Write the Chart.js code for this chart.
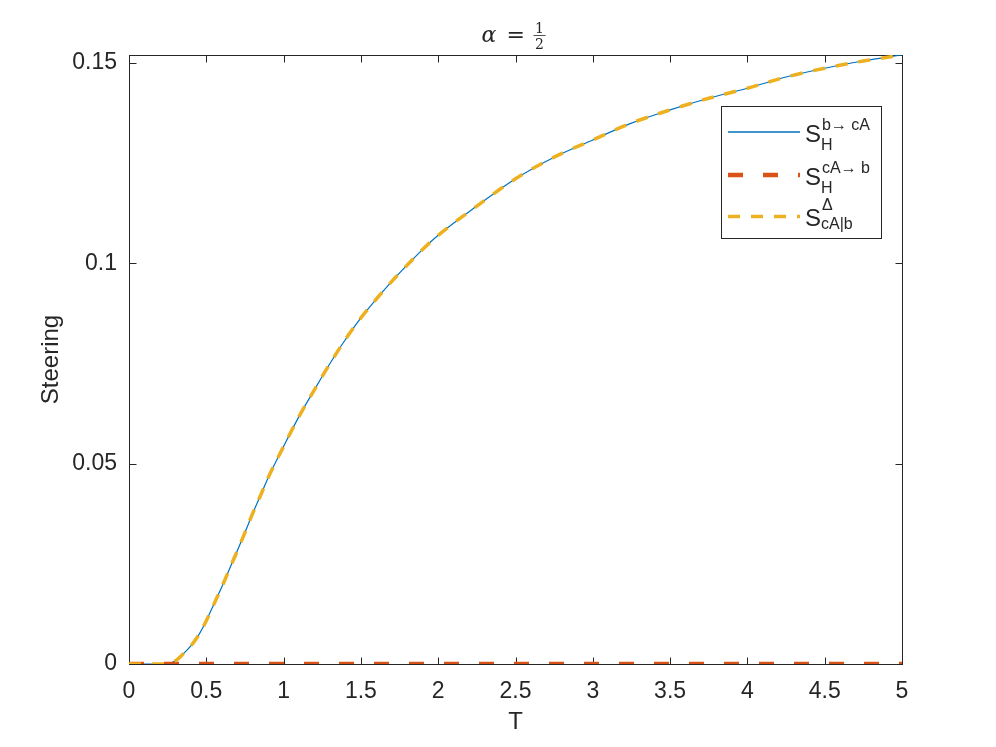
<!DOCTYPE html>
<html>
<head>
<meta charset="utf-8">
<script src="https://cdn.jsdelivr.net/npm/chart.js@4.4.0/dist/chart.umd.min.js"></script>
<style>
  html, body { margin: 0; padding: 0; background: #fff; }
  #wrap { width: 996px; height: 747px; }
</style>
</head>
<body>
<div id="wrap"><canvas id="steeringChart" width="996" height="747"></canvas></div>
<script>
// values
const tValues = [0, 0.1, 0.2, 0.25, 0.3, 0.35, 0.4, 0.45, 0.5, 0.55, 0.6, 0.65, 0.7, 0.75,
  0.8, 0.85, 0.9, 1.0, 1.1, 1.2, 1.3, 1.4, 1.5, 1.6, 1.7, 1.8, 1.9, 2.0, 2.25, 2.5,
  2.75, 3.0, 3.25, 3.5, 3.75, 4.0, 4.25, 4.5, 4.75, 5.0];
const sBtoCA = [0, 0, 0, 0.0001, 0.0008, 0.0025, 0.0045, 0.0072, 0.0108, 0.015, 0.0192,
  0.0237, 0.0282, 0.0328, 0.0376, 0.042, 0.0465, 0.0543, 0.0618, 0.0685, 0.0750, 0.0810,
  0.0864, 0.0911, 0.0955, 0.0996, 0.1035, 0.107, 0.1143, 0.1211, 0.1265, 0.1308, 0.135,
  0.1383, 0.1412, 0.1437, 0.1465, 0.1487, 0.1505, 0.152];
const sCAtoB = tValues.map(() => 0);
const sDelta = sBtoCA.slice();

const xTicks = [0, 0.5, 1, 1.5, 2, 2.5, 3, 3.5, 4, 4.5, 5];
const yTicks = [0, 0.05, 0.1, 0.15];

const AXIS_COLOR = "#262626";
const FONT = "'Liberation Sans', Arial, Helvetica, sans-serif";
const SERIF = "'DejaVu Serif', 'Liberation Serif', serif";

function toPoints(ys) {
  return tValues.map((t, i) => ({ x: t, y: ys[i] }));
}

// axes box with inward ticks (matlab style)
const boxPlugin = {
  id: "matlabBox",
  beforeDatasetsDraw(chart) {
    const { ctx, chartArea: a, scales } = chart;
    const L = Math.round(a.left) + 0.5, R = Math.round(a.right) + 0.5;
    const T = Math.round(a.top) + 0.5, B = Math.round(a.bottom) + 0.5;
    const len = 7;
    ctx.save();
    ctx.strokeStyle = AXIS_COLOR;
    ctx.lineWidth = 1;
    ctx.strokeRect(L, T, R - L, B - T);
    ctx.beginPath();
    xTicks.forEach((v) => {
      const px = Math.round(scales.x.getPixelForValue(v)) + 0.5;
      ctx.moveTo(px, B); ctx.lineTo(px, B - len);
      ctx.moveTo(px, T); ctx.lineTo(px, T + len);
    });
    yTicks.forEach((v) => {
      const py = Math.round(scales.y.getPixelForValue(v)) + 0.5;
      ctx.moveTo(L, py); ctx.lineTo(L + len, py);
      ctx.moveTo(R, py); ctx.lineTo(R - len, py);
    });
    ctx.stroke();
    ctx.restore();
  },
  afterDraw(chart) {
    const { ctx, chartArea: a } = chart;
    ctx.save();
    ctx.fillStyle = AXIS_COLOR;
    ctx.strokeStyle = AXIS_COLOR;
    ctx.textBaseline = "alphabetic";

    // title: alpha = 1/2
    const cx = (a.left + a.right) / 2;
    ctx.font = "italic 22px " + SERIF;
    ctx.textAlign = "left";
    ctx.fillText("α", cx - 34, 42);
    ctx.font = "22px " + SERIF;
    ctx.fillText("=", cx - 9, 42);
    ctx.font = "14px " + SERIF;
    ctx.textAlign = "center";
    ctx.fillText("1", cx + 24, 33);
    ctx.fillText("2", cx + 24, 48.5);
    ctx.lineWidth = 0.8;
    ctx.beginPath();
    ctx.moveTo(cx + 18, 35.5); ctx.lineTo(cx + 30, 35.5);
    ctx.stroke();

    // legend
    const bx = 721.5, by = 106.5, bw = 160, bh = 132;
    ctx.fillStyle = "#fff";
    ctx.fillRect(bx, by, bw, bh);
    ctx.lineWidth = 1;
    ctx.strokeStyle = AXIS_COLOR;
    ctx.strokeRect(bx, by, bw, bh);

    const rows = [
      { y: 132, color: "#0072BD", width: 1.5, dash: [], sup: "b→ cA", sub: "H", base: 141.5, supBase: 129.5, subBase: 149.5 },
      { y: 175, color: "#D95319", width: 4.5, dash: [15, 20], sup: "cA→ b", sub: "H", base: 184.5, supBase: 173, subBase: 192.5 },
      { y: 216.5, color: "#EDB120", width: 3.5, dash: [12, 11], sup: "Δ", sub: "cA|b", base: 226, supBase: 210, subBase: 229 },
    ];
    rows.forEach((r) => {
      ctx.save();
      ctx.strokeStyle = r.color;
      ctx.lineWidth = r.width;
      ctx.setLineDash(r.dash);
      ctx.beginPath();
      ctx.moveTo(728, r.y); ctx.lineTo(800, r.y);
      ctx.stroke();
      ctx.restore();
      ctx.fillStyle = AXIS_COLOR;
      ctx.textAlign = "left";
      ctx.font = "24px " + FONT;
      ctx.fillText("S", 805, r.base);
      ctx.font = "16px " + FONT;
      ctx.fillText(r.sup, 822, r.supBase);
      ctx.fillText(r.sub, 821, r.subBase);
    });
    ctx.restore();
  },
};

new Chart(document.getElementById("steeringChart").getContext("2d"), {
  type: "line",
  data: {
    datasets: [
      {
        label: "S_H^{b→cA}",
        data: toPoints(sBtoCA),
        borderColor: "#0072BD",
        borderWidth: 1.2,
        pointRadius: 0,
        cubicInterpolationMode: "monotone",
        order: 3,
      },
      {
        label: "S_H^{cA→b}",
        data: toPoints(sCAtoB),
        borderColor: "#D95319",
        borderWidth: 4.5,
        borderDash: [15, 20],
        borderCapStyle: "butt",
        pointRadius: 0,
        order: 2,
      },
      {
        label: "S_{cA|b}^Δ",
        data: toPoints(sDelta),
        borderColor: "#EDB120",
        borderWidth: 3.5,
        borderDash: [12, 11],
        borderCapStyle: "butt",
        pointRadius: 0,
        cubicInterpolationMode: "monotone",
        order: 1,
      },
    ],
  },
  options: {
    responsive: false,
    animation: false,
    layout: { padding: { left: 0, top: 55, right: 94, bottom: 0 } },
    plugins: {
      legend: { display: false },
      tooltip: { enabled: false },
    },
    scales: {
      x: {
        type: "linear",
        min: 0,
        max: 5,
        grid: { display: false, drawTicks: false },
        border: { display: false },
        afterFit: (axis) => { axis.height = 83; },
        afterBuildTicks: (axis) => { axis.ticks = xTicks.map((v) => ({ value: v })); },
        ticks: {
          autoSkip: false,
          maxRotation: 0,
          padding: 14,
          color: AXIS_COLOR,
          font: { family: FONT, size: 23 },
          callback: (v) => String(v),
        },
        title: {
          display: true,
          text: "T",
          color: AXIS_COLOR,
          font: { family: FONT, size: 24 },
          padding: { top: 0, bottom: 10 },
        },
      },
      y: {
        type: "linear",
        min: 0,
        max: 0.152,
        grid: { display: false, drawTicks: false },
        border: { display: false },
        afterFit: (axis) => { axis.width = 129; },
        afterBuildTicks: (axis) => { axis.ticks = yTicks.map((v) => ({ value: v })); },
        ticks: {
          autoSkip: false,
          padding: 12,
          color: AXIS_COLOR,
          font: { family: FONT, size: 23 },
          callback: (v) => String(v),
        },
        title: {
          display: true,
          text: "Steering",
          color: AXIS_COLOR,
          font: { family: FONT, size: 24 },
          padding: { top: 37, bottom: 0 },
        },
      },
    },
  },
  plugins: [boxPlugin],
});
</script>
</body>
</html>
